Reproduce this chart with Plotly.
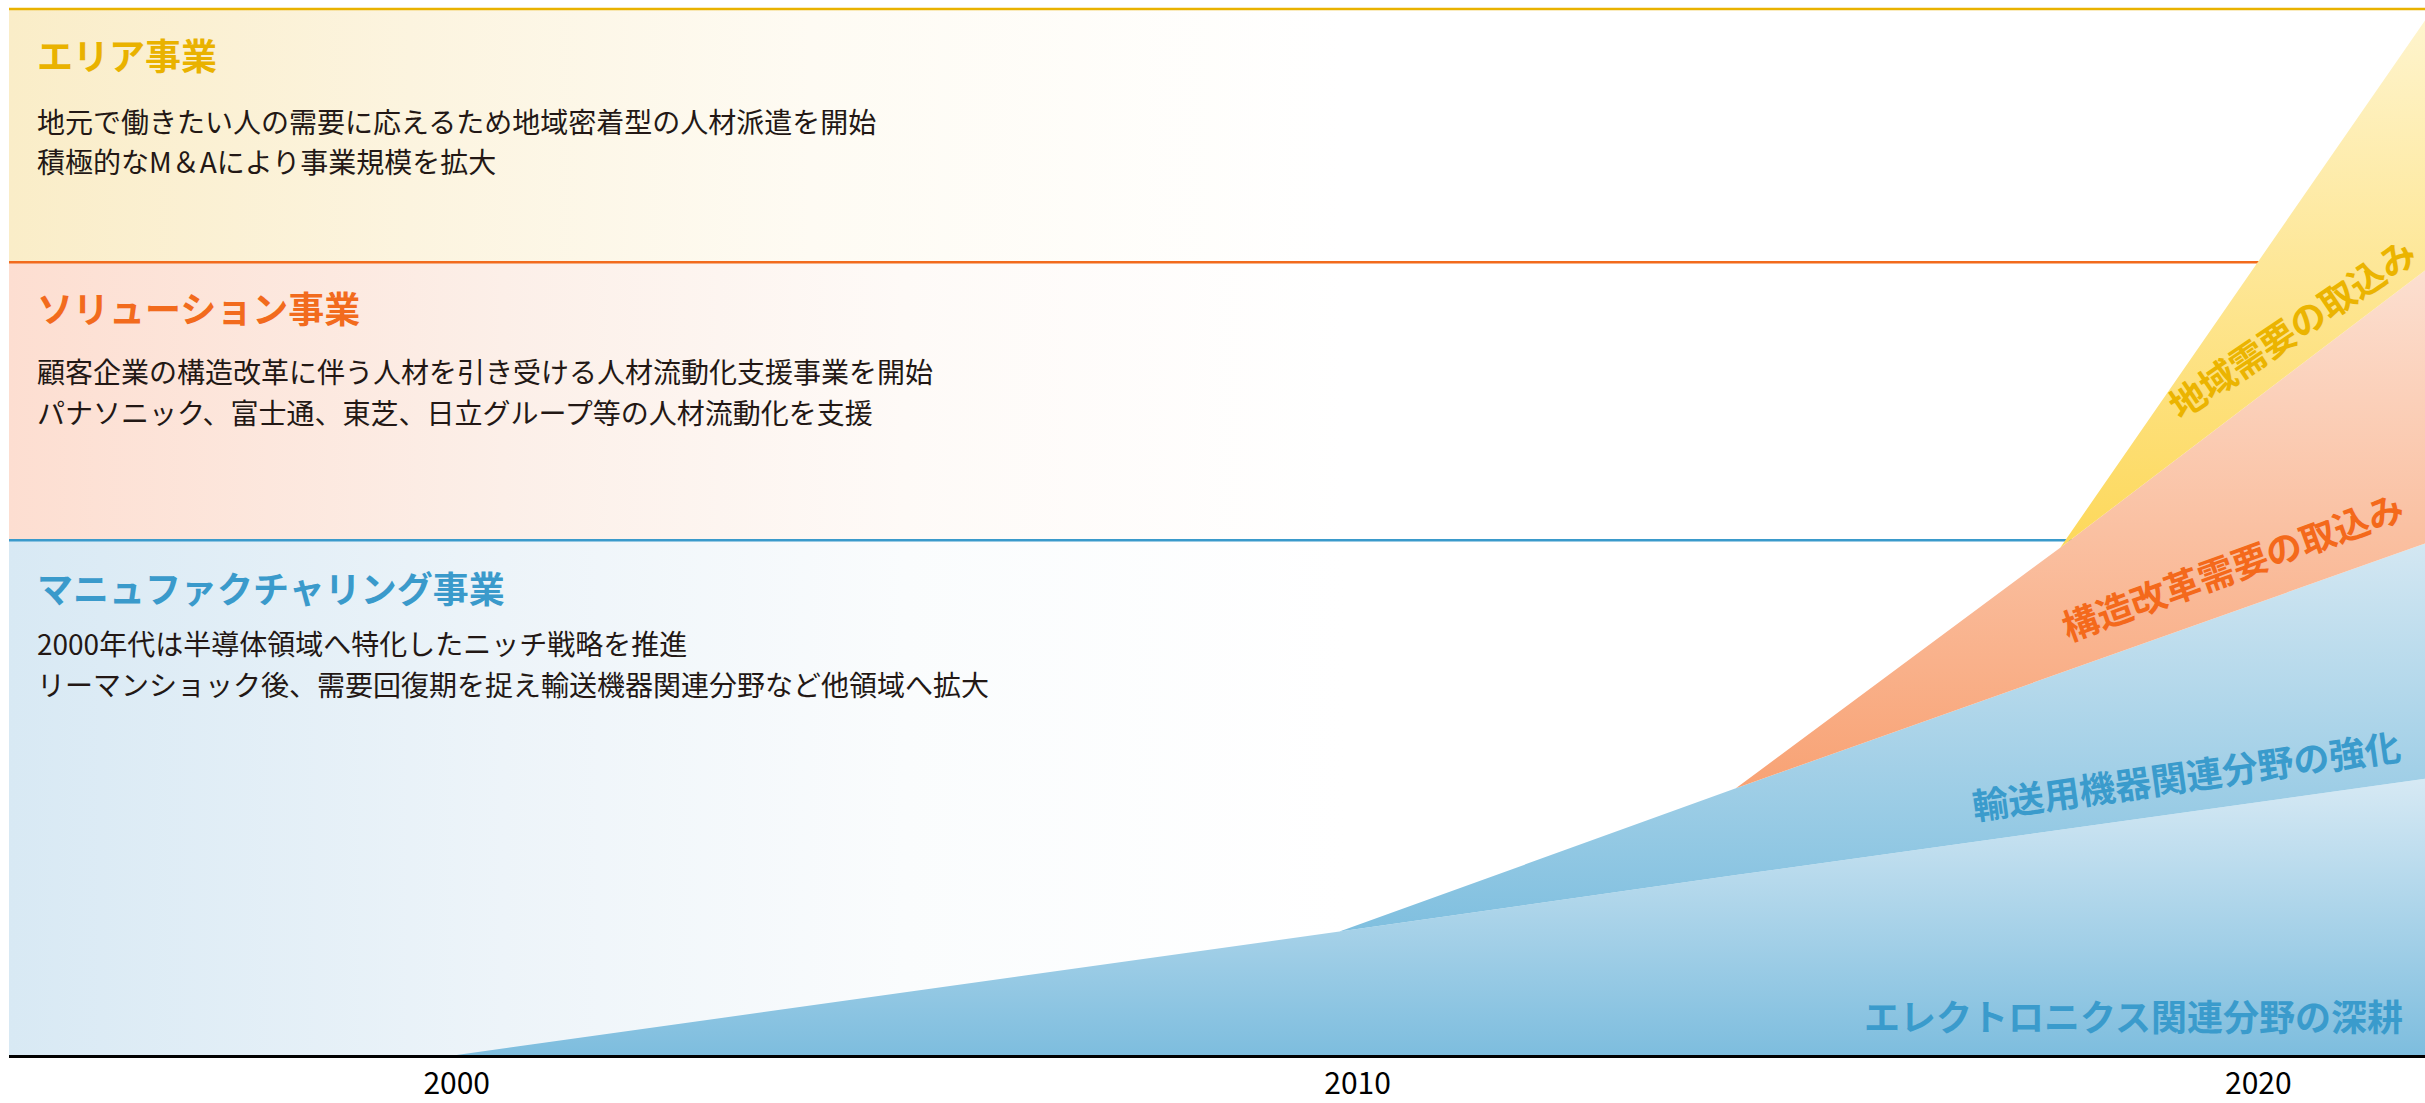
import plotly.graph_objects as go

# ---------------- data ----------------
years = [2000, 2009.8, 2014.2, 2017.8, 2021.85]
electronics = [0, 11.8, 17.2, 21.5, 26.4]      # エレクトロニクス関連分野の深耕
transport = [0, 0, 8.3, 15.0, 22.5]            # 輸送用機器関連分野の強化
restructure = [0, 0, 0, 12.0, 26.1]            # 構造改革需要の取込み
regional = [0, 0, 0, 0, 23.9]                  # 地域需要の取込み

tick_years = [2000, 2010, 2020]
tick_labels = ["2000", "2010", "2020"]

band_edges = [0, 49.2, 75.8, 100]              # マニュファクチャリング / ソリューション / エリア
band_titles = ["マニュファクチャリング事業", "ソリューション事業", "エリア事業"]
band_lines = [
    ["2000年代は半導体領域へ特化したニッチ戦略を推進",
     "リーマンショック後、需要回復期を捉え輸送機器関連分野など他領域へ拡大"],
    ["顧客企業の構造改革に伴う人材を引き受ける人材流動化支援事業を開始",
     "パナソニック、富士通、東芝、日立グループ等の人材流動化を支援"],
    ["地元で働きたい人の需要に応えるため地域密着型の人材派遣を開始",
     "積極的なM＆Aにより事業規模を拡大"],
]
band_colors = ["#3A9ACB", "#F26B1D", "#E9B200"]
band_bg = [
    [[0, "#D8E9F4"], [0.37, "#EDF4F9"], [0.67, "#FAFCFD"], [1, "#FFFFFF"]],
    [[0, "#FDDED1"], [0.37, "#FCEFE8"], [0.67, "#FEFAF7"], [1, "#FFFFFF"]],
    [[0, "#FAEDC8"], [0.30, "#FCF4DF"], [0.60, "#FEFBF3"], [1, "#FFFFFF"]],
]

X_MIN, X_MAX = 1995.03, 2021.85
BG_END = 2009.86
Y_MAX = 100.86

FONT = "Noto Sans CJK JP"

fig = go.Figure()

# band backgrounds (horizontal gradient)
for i in range(3):
    y0, y1 = band_edges[i], band_edges[i + 1]
    fig.add_trace(go.Scatter(
        x=[X_MIN, BG_END, BG_END, X_MIN, X_MIN],
        y=[y0, y0, y1, y1, y0],
        mode="lines", line=dict(width=0), fill="toself",
        fillgradient=dict(type="horizontal", colorscale=band_bg[i],
                          start=X_MIN, stop=BG_END),
        hoverinfo="skip", showlegend=False))

# band separator lines
for i in range(3):
    yv = band_edges[i + 1]
    fig.add_trace(go.Scatter(
        x=[X_MIN, X_MAX], y=[yv, yv], mode="lines",
        line=dict(color=band_colors[i], width=2.5),
        hoverinfo="skip", showlegend=False))

# stacked areas with vertical gradients
cum1 = electronics
cum2 = [a + b for a, b in zip(cum1, transport)]
cum3 = [a + b for a, b in zip(cum2, restructure)]
cum4 = [a + b for a, b in zip(cum3, regional)]

layers = [
    (electronics, [[0, "#7DBDDE"], [1, "#D6E9F4"]], 0, max(cum1)),
    (transport, [[0, "#7FBFDF"], [1, "#D3E7F2"]], cum1[1], max(cum2)),
    (restructure, [[0, "#F8A274"], [1, "#FCDFD0"]], cum2[2], max(cum3)),
    (regional, [[0, "#FDD85A"], [1, "#FEF4CD"]], cum3[3], max(cum4)),
]
for vals, cs, s0, s1 in layers:
    fig.add_trace(go.Scatter(
        x=years, y=vals, stackgroup="biz", mode="lines",
        line=dict(width=0),
        fillgradient=dict(type="vertical", colorscale=cs, start=s0, stop=s1),
        hoverinfo="skip", showlegend=False))

anns = []
title_y = [44.75, 71.5, 95.7]
line_y = [[39.4, 35.5], [65.4, 61.5], [89.3, 85.5]]
for i in range(3):
    anns.append(dict(x=0.0108, xref="paper", y=title_y[i], yref="y",
                     text="<b>" + band_titles[i] + "</b>", showarrow=False,
                     xanchor="left", yanchor="middle",
                     font=dict(family=FONT, size=36, color=band_colors[i])))
    for j, t in enumerate(band_lines[i]):
        anns.append(dict(x=0.0108, xref="paper", y=line_y[i][j], yref="y",
                         text=t, showarrow=False, xanchor="left", yanchor="middle",
                         font=dict(family=FONT, size=28, color="#231815")))

# area labels
area_labels = [
    ("エレクトロニクス関連分野の深耕", 2021.63, 3.8, 0, "right", "#3A9BCC"),
    ("輸送用機器関連分野の強化", 2019.2, 26.9, -8, "center", "#3A9BCC"),
    ("構造改革需要の取込み", 2019.71, 46.85, -20, "center", "#F4691B"),
    ("地域需要の取込み", 2020.36, 69.6, -34, "center", "#EBB400"),
]
for t, x, y, ang, xa, c in area_labels:
    anns.append(dict(x=x, y=y, xref="x", yref="y", text="<b>" + t + "</b>",
                     showarrow=False, textangle=ang, xanchor=xa, yanchor="middle",
                     font=dict(family=FONT, size=36, color=c)))

fig.update_layout(
    width=2425, height=1103,
    margin=dict(l=9, r=0, t=0, b=46),
    paper_bgcolor="white", plot_bgcolor="white",
    showlegend=False,
    annotations=anns,
    xaxis=dict(range=[X_MIN, X_MAX], showgrid=False, zeroline=False,
               showline=True, linecolor="black", linewidth=3,
               tickvals=tick_years, ticktext=tick_labels, ticks="",
               tickfont=dict(family=FONT, size=30, color="black")),
    yaxis=dict(range=[0, Y_MAX], visible=False, showgrid=False, zeroline=False),
)

fig.write_html("out.html", config={"displayModeBar": False},
               post_script="document.body.style.margin='0';")
